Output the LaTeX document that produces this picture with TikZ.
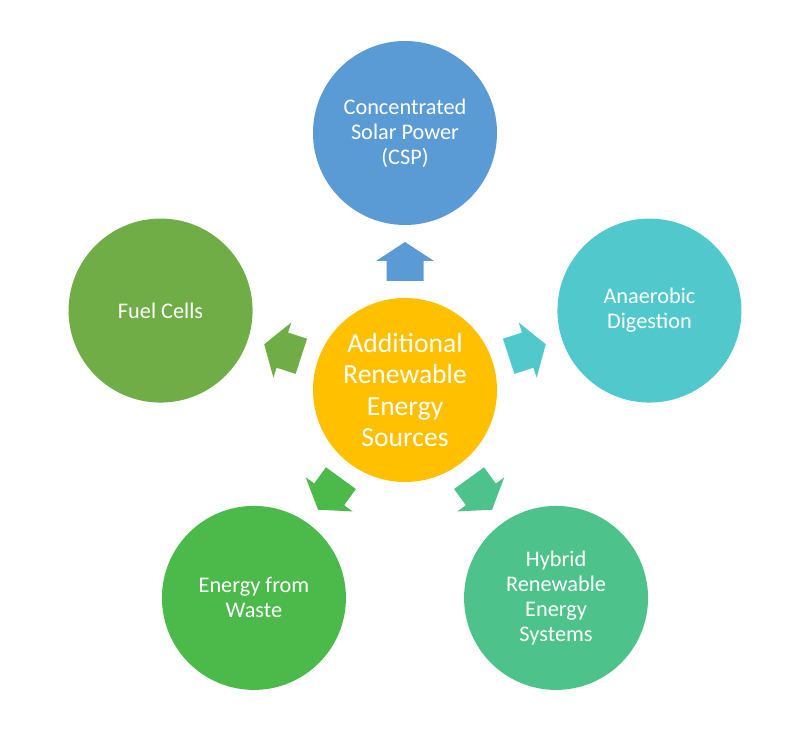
\documentclass[tikz,border=0pt]{standalone}
\usepackage{fontspec}
\setmainfont{Carlito}
\usetikzlibrary{calc}
\definecolor{cCenter}{HTML}{FFC000}
\definecolor{cTop}{HTML}{5B9BD5}
\definecolor{cRight}{HTML}{51C9CC}
\definecolor{cBR}{HTML}{4DC38B}
\definecolor{cBL}{HTML}{4BBA4B}
\definecolor{cLeft}{HTML}{70AD47}
\begin{document}
\begin{tikzpicture}[x=1pt,y=1pt,
  outer/.style={circle,minimum size=184pt,inner sep=0pt,text=white,align=center,
    font=\fontsize{22.3}{25}\selectfont},
  hub/.style={circle,minimum size=184pt,inner sep=0pt,text=white,align=center,fill=cCenter,
    font=\fontsize{27.6}{31.5}\selectfont}]
\useasboundingbox (0,0) rectangle (810,730);
\node[hub] (c) at (405,340) {Additional\\Renewable\\Energy\\Sources};
\node[outer,fill=cTop] (t) at ($(c)+(90:257)$) {Concentrated\\Solar Power\\(CSP)};
\node[outer,fill=cRight] (r) at ($(c)+(18:257)$) {Anaerobic\\Digestion};
\node[outer,fill=cBR] (br) at ($(c)+(-54:257)$) {Hybrid\\Renewable\\Energy\\Systems};
\node[outer,fill=cBL] (bl) at ($(c)+(-126:257)$) {Energy from\\Waste};
\node[outer,fill=cLeft] (l) at ($(c)+(162:257)$) {Fuel Cells};
\foreach \ang/\col in {90/cTop,18/cRight,-54/cBR,-126/cBL,162/cLeft}{
  \begin{scope}[shift={(c.center)},rotate=\ang-90]
    \fill[\col] (-18.5,109) -- (-18.5,129) -- (-29,129) -- (0,148) -- (29,129) -- (18.5,129) -- (18.5,109) -- cycle;
  \end{scope}
}
\end{tikzpicture}
\end{document}
